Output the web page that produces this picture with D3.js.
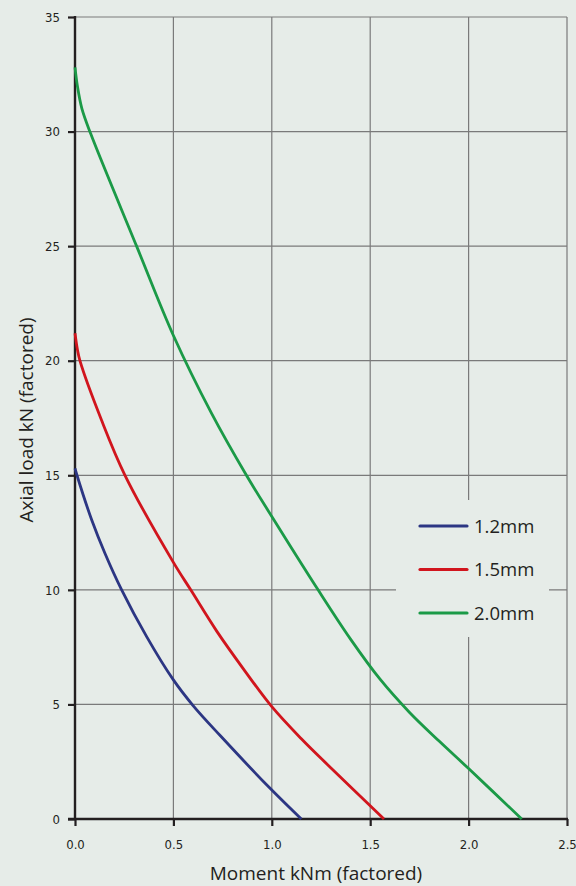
<!DOCTYPE html>
<meta charset="utf-8">
<style>
body { margin: 0; background: #e6ece8; }
svg { display: block; }
.grid line { stroke: #7a7a7a; stroke-width: 1.2; }
.tick-label { font-family: "Liberation Sans Narrow", "DejaVu Sans Condensed", sans-serif; font-size: 13px; fill: #231f20; }
.title { font-family: "Open Sans", "Noto Sans", sans-serif; font-size: 19px; fill: #231f20; }
.leg text { font-family: "Open Sans", "Noto Sans", sans-serif; font-size: 18.5px; fill: #231f20; }
</style>
<svg width="576" height="886"></svg>
<script src="https://d3js.org/d3.v7.min.js"></script>
<script>

// series
var seriesNames = ["1.2mm", "1.5mm", "2.0mm"];
var seriesColors = ["#2c3683", "#d1151d", "#1b9a47"];

var moment12 = [0, 0.01, 0.085, 0.152, 0.237, 0.364, 0.5, 0.6, 0.74, 0.99, 1.15];
var axial12  = [15.3, 15, 13.05, 11.6, 10, 7.96, 6.07, 4.95, 3.62, 1.35, 0];

var moment15 = [0, 0.012, 0.025, 0.135, 0.254, 0.5, 0.588, 0.72, 0.86, 1.0, 1.15, 1.294, 1.57];
var axial15  = [21.2, 20.5, 20, 17.4, 15, 11.2, 10, 8.2, 6.5, 4.9, 3.5, 2.28, 0];

var moment20 = [0, 0.012, 0.035, 0.08, 0.313, 0.5, 0.694, 0.871, 1.0, 1.235, 1.4, 1.55, 1.7, 1.85, 2.0, 2.27];
var axial20  = [32.8, 32.0, 31.0, 29.9, 25, 21.1, 17.7, 15, 13.2, 10, 7.85, 6.1, 4.65, 3.4, 2.2, 0];

var xTicks = [0, 0.5, 1.0, 1.5, 2.0, 2.5];
var yTicks = [0, 5, 10, 15, 20, 25, 30, 35];

var series = [
  { name: seriesNames[0], color: seriesColors[0], xs: moment12, ys: axial12 },
  { name: seriesNames[1], color: seriesColors[1], xs: moment15, ys: axial15 },
  { name: seriesNames[2], color: seriesColors[2], xs: moment20, ys: axial20 }
];

var svg = d3.select("svg");

var x = d3.scaleLinear().domain([0, 2.5]).range([75, 567]);
var y = d3.scaleLinear().domain([0, 35]).range([819, 17]);

// grid
var grid = svg.append("g").attr("class", "grid");
grid.selectAll(".v")
  .data(xTicks.slice(1))
  .enter().append("line")
  .attr("x1", function(d) { return x(d); })
  .attr("x2", function(d) { return x(d); })
  .attr("y1", y(35))
  .attr("y2", y(0));
grid.selectAll(".h")
  .data(yTicks.slice(1))
  .enter().append("line")
  .attr("x1", x(0))
  .attr("x2", x(2.5))
  .attr("y1", function(d) { return y(d); })
  .attr("y2", function(d) { return y(d); });

// legend box covers grid
svg.append("rect")
  .attr("x", 396).attr("y", 500)
  .attr("width", 153).attr("height", 137)
  .attr("fill", "#e6ece8");

// axes
var xAxis = d3.axisBottom(x).tickValues(xTicks).tickFormat(d3.format(".1f")).tickSize(7).tickPadding(14);
var yAxis = d3.axisLeft(y).tickValues(yTicks).tickFormat(d3.format("d")).tickSize(7).tickPadding(8);

var gx = svg.append("g").attr("transform", "translate(0," + y(0) + ")").call(xAxis);
var gy = svg.append("g").attr("transform", "translate(" + x(0) + ",0)").call(yAxis);

[gx, gy].forEach(function(g) {
  g.select(".domain").remove();
  g.selectAll(".tick line").attr("stroke", "#231f20").attr("stroke-width", 2.2);
  g.selectAll(".tick text").attr("class", "tick-label").attr("fill", null);
});

svg.append("line")
  .attr("x1", x(0) - 7).attr("x2", x(2.5) + 1)
  .attr("y1", y(0)).attr("y2", y(0))
  .attr("stroke", "#231f20").attr("stroke-width", 2.4);
svg.append("line")
  .attr("x1", x(0)).attr("x2", x(0))
  .attr("y1", y(35) - 1).attr("y2", y(0))
  .attr("stroke", "#231f20").attr("stroke-width", 2.4);

// curves
var line = d3.line()
  .x(function(d) { return x(d[0]); })
  .y(function(d) { return y(d[1]); })
  .curve(d3.curveCatmullRom.alpha(0.5));

svg.selectAll(".curve")
  .data(series)
  .enter().append("path")
  .attr("class", "curve")
  .attr("fill", "none")
  .attr("stroke", function(d) { return d.color; })
  .attr("stroke-width", 2.8)
  .attr("d", function(d) { return line(d3.zip(d.xs, d.ys)); });

// legend
var leg = svg.selectAll(".leg")
  .data(series)
  .enter().append("g")
  .attr("class", "leg")
  .attr("transform", function(d, i) { return "translate(0," + (526 + i * 43.5) + ")"; });
leg.append("line")
  .attr("x1", 420).attr("x2", 467)
  .attr("stroke", function(d) { return d.color; })
  .attr("stroke-width", 3.2)
  .attr("stroke-linecap", "round");
leg.append("text")
  .attr("x", 474).attr("y", 6.5)
  .text(function(d) { return d.name; });

// titles
svg.append("text")
  .attr("class", "title")
  .attr("x", 316).attr("y", 880)
  .attr("text-anchor", "middle")
  .text("Moment kNm (factored)");

svg.append("text")
  .attr("class", "title")
  .attr("transform", "translate(33,420) rotate(-90)")
  .attr("text-anchor", "middle")
  .text("Axial load kN (factored)");

</script>
